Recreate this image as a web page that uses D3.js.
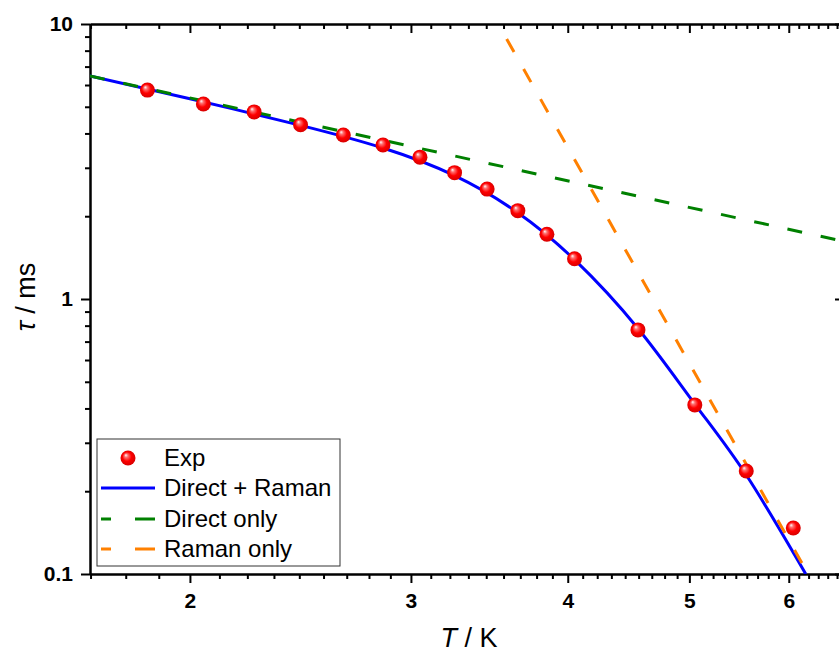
<!DOCTYPE html>
<html>
<head>
<meta charset="utf-8">
<script src="https://cdn.jsdelivr.net/npm/d3@7"></script>
<style>
  body { margin: 0; background: #fff; }
  text { font-family: Arial, "Liberation Sans", sans-serif; }
</style>
</head>
<body>
<div id="the_chart"></div>
<script>
// experimental points
var expT   = [1.85, 2.05, 2.25, 2.45, 2.65, 2.85, 3.05, 3.25, 3.45, 3.65, 3.85, 4.05, 4.55, 5.05, 5.55, 6.05];
var expTau = [5.75, 5.12, 4.79, 4.30, 3.95, 3.63, 3.28, 2.88, 2.51, 2.095, 1.72, 1.40, 0.772, 0.412, 0.237, 0.147];

// fit curves
var fitT   = [1.665, 2.0, 2.45, 2.85, 3.25, 3.65, 4.05, 4.55, 5.05, 5.55, 6.19];
var fitTau = [6.47, 5.35, 4.28, 3.54, 2.81, 2.06, 1.39, 0.781, 0.415, 0.229, 0.100];

var directT   = [1.665, 6.64];
var directTau = [6.47, 1.62];

var ramanT   = [3.576, 6.30];
var ramanTau = [8.82, 0.0897];

var xTicks = [2, 3, 4, 5, 6];
var yTicks = [0.1, 1, 10];

var legendNames = ["Exp", "Direct + Raman", "Direct only", "Raman only"];

var w = 839, h = 656;
var pLeft = 90, pRight = 844, pTop = 24, pBottom = 574;

var svg = d3.select("#the_chart").append("svg")
    .attr("width", w).attr("height", h);

var defs = svg.append("defs");
var grad = defs.append("radialGradient").attr("id", "ball")
    .attr("cx", "50%").attr("cy", "50%").attr("r", "55%")
    .attr("fx", "35%").attr("fy", "30%");
grad.append("stop").attr("offset", "0%").attr("stop-color", "#ffffff");
grad.append("stop").attr("offset", "22%").attr("stop-color", "#ff7070");
grad.append("stop").attr("offset", "55%").attr("stop-color", "#ff0000");
grad.append("stop").attr("offset", "100%").attr("stop-color", "#d00000");

defs.append("clipPath").attr("id", "clip")
  .append("rect").attr("x", pLeft).attr("y", pTop)
  .attr("width", pRight - pLeft).attr("height", pBottom - pTop);

var xscale = d3.scaleLog().domain([1.665, 6.64]).range([pLeft, pRight]);
var yscale = d3.scaleLog().domain([0.1, 10]).range([pBottom, pTop]);

// minor tick values
var xMinor = [];
for (var i = 1; i < 7; i++) {
  for (var k = 1; k < 9; k++) {
    var v = i + k / 9;
    if (v > 1.665 && v < 6.64) xMinor.push(v);
  }
}
var yMinor = [];
[0.1, 1].forEach(function(d) {
  for (var k = 2; k < 10; k++) yMinor.push(d * k);
});

function styleAxis(g) {
  g.attr("font-size", 21).attr("font-weight", "bold")
    .attr("font-family", "Arial, 'Liberation Sans', sans-serif");
  g.select(".domain").attr("stroke", "#000").attr("stroke-width", 2);
  g.selectAll(".tick line").attr("stroke", "#000").attr("stroke-width", 2);
  g.selectAll(".tick text").attr("fill", "#000");
}

// bottom
svg.append("g").attr("transform", "translate(0," + pBottom + ")")
  .call(d3.axisBottom(xscale).tickValues(xMinor).tickSize(5).tickSizeOuter(0).tickFormat(""))
  .call(styleAxis);
var gX = svg.append("g").attr("transform", "translate(0," + pBottom + ")")
  .call(d3.axisBottom(xscale).tickValues(xTicks).tickSize(9).tickSizeOuter(0)
        .tickPadding(10).tickFormat(d3.format("d")))
  .call(styleAxis);

// top
svg.append("g").attr("transform", "translate(0," + pTop + ")")
  .call(d3.axisTop(xscale).tickValues(xMinor).tickSize(-5).tickSizeOuter(0).tickFormat(""))
  .call(styleAxis);
svg.append("g").attr("transform", "translate(0," + pTop + ")")
  .call(d3.axisTop(xscale).tickValues(xTicks).tickSize(-9).tickSizeOuter(0).tickFormat(""))
  .call(styleAxis);

// left
svg.append("g").attr("transform", "translate(" + pLeft + ",0)")
  .call(d3.axisLeft(yscale).tickValues(yMinor).tickSize(5).tickSizeOuter(0).tickFormat(""))
  .call(styleAxis);
var gY = svg.append("g").attr("transform", "translate(" + pLeft + ",0)")
  .call(d3.axisLeft(yscale).tickValues(yTicks).tickSize(9).tickSizeOuter(0)
        .tickPadding(8).tickFormat(function(d) { return d < 1 ? "0.1" : d3.format("d")(d); }))
  .call(styleAxis);

// right
svg.append("g").attr("transform", "translate(" + pRight + ",0)")
  .call(d3.axisRight(yscale).tickValues(yTicks).tickSize(-9).tickSizeOuter(0).tickFormat(""))
  .call(styleAxis);

// curves
var plot = svg.append("g").attr("clip-path", "url(#clip)");

var line = d3.line()
  .x(function(d) { return xscale(d[0]); })
  .y(function(d) { return yscale(d[1]); });

plot.append("path")
  .datum(d3.zip(fitT, fitTau))
  .attr("d", line.curve(d3.curveNatural))
  .attr("fill", "none").attr("stroke", "#0000ff").attr("stroke-width", 3);

plot.append("path")
  .datum(d3.zip(directT, directTau))
  .attr("d", line.curve(d3.curveLinear))
  .attr("fill", "none").attr("stroke", "#008000").attr("stroke-width", 3)
  .attr("stroke-dasharray", "15,19");

plot.append("path")
  .datum(d3.zip(ramanT, ramanTau))
  .attr("d", line.curve(d3.curveLinear))
  .attr("fill", "none").attr("stroke", "#ff8000").attr("stroke-width", 3)
  .attr("stroke-dasharray", "15,19.5");

svg.selectAll("circle.exp")
  .data(d3.zip(expT, expTau))
  .enter().append("circle")
  .attr("class", "exp")
  .attr("r", 7.5)
  .attr("cx", function(d) { return xscale(d[0]); })
  .attr("cy", function(d) { return yscale(d[1]); })
  .attr("fill", "url(#ball)");

// legend
var lg = svg.append("g");
lg.append("rect").attr("x", 97).attr("y", 439).attr("width", 243).attr("height", 127)
  .attr("fill", "#fff").attr("stroke", "#333").attr("stroke-width", 1);

var rowY = [458, 488, 519, 549];
lg.append("circle").attr("cx", 128).attr("cy", rowY[0]).attr("r", 7.5).attr("fill", "url(#ball)");
lg.append("line").attr("x1", 101).attr("x2", 155).attr("y1", rowY[1]).attr("y2", rowY[1])
  .attr("stroke", "#0000ff").attr("stroke-width", 3);
lg.append("line").attr("x1", 101).attr("x2", 155).attr("y1", rowY[2]).attr("y2", rowY[2])
  .attr("stroke", "#008000").attr("stroke-width", 3).attr("stroke-dasharray", "10,24,20");
lg.append("line").attr("x1", 101).attr("x2", 155).attr("y1", rowY[3]).attr("y2", rowY[3])
  .attr("stroke", "#ff8000").attr("stroke-width", 3).attr("stroke-dasharray", "10,24,20");

lg.selectAll("text.leg")
  .data(legendNames)
  .enter().append("text")
  .attr("class", "leg")
  .attr("x", 164)
  .attr("y", function(d, i) { return rowY[i] + 8; })
  .attr("font-size", 24)
  .text(function(d) { return d; });

// axis titles
var xt = svg.append("text").attr("x", 469).attr("y", 647)
  .attr("text-anchor", "middle").attr("font-size", 27);
xt.append("tspan").attr("font-style", "italic").text("T");
xt.append("tspan").text(" / K");

var yt = svg.append("text")
  .attr("transform", "translate(35,297) rotate(-90)")
  .attr("text-anchor", "middle").attr("font-size", 27);
yt.append("tspan").attr("font-style", "italic").text("τ");
yt.append("tspan").text(" / ms");
</script>
</body>
</html>
